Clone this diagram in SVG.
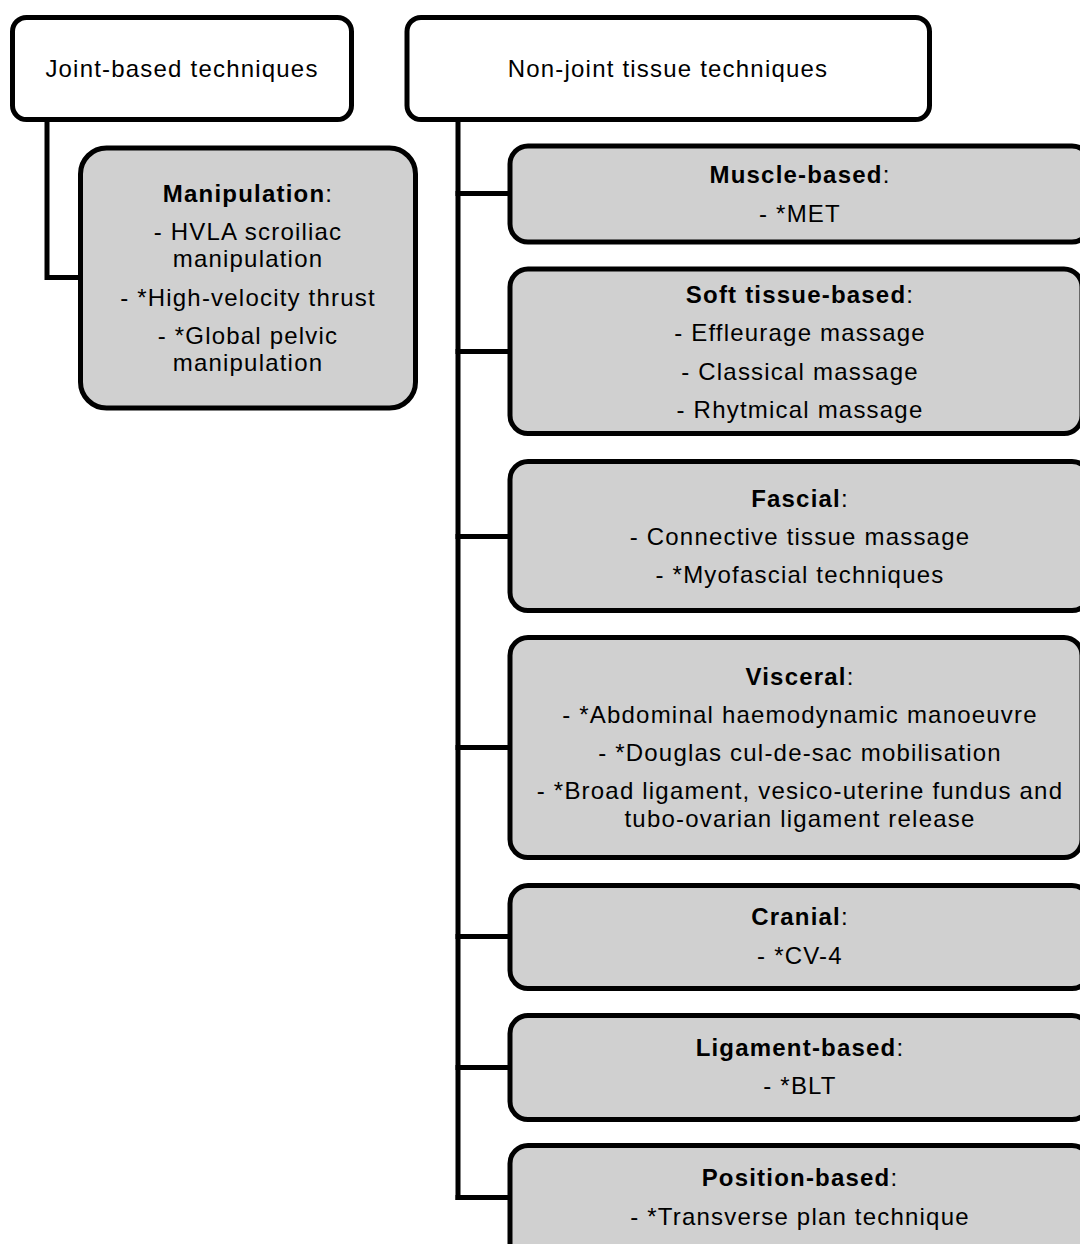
<svg xmlns="http://www.w3.org/2000/svg" width="1080" height="1244" viewBox="0 0 1080 1244">
  <style>
    .box { stroke: #000; stroke-width: 5; }
    .head { fill: #fff; }
    .sub { fill: #d0d0d0; }
    .link { fill: none; stroke: #000; stroke-width: 5; stroke-linejoin: miter; stroke-linecap: square; }
    text { font-family: "Liberation Sans", Arial, sans-serif; font-size: 24px; fill: #000; text-anchor: middle; letter-spacing: 1.2px; }
    .b { font-weight: bold; }
  </style>

  <rect width="1080" height="1244" fill="#fff"/>

  <!-- connectors -->
  <g id="connectors">
    <path class="link" d="M47 122 V277.5 H78"/>
    <path class="link" d="M458 122 V1197.5"/>
    <path class="link" d="M458 193.5 H508"/>
    <path class="link" d="M458 351.5 H508"/>
    <path class="link" d="M458 536.5 H508"/>
    <path class="link" d="M458 747.5 H508"/>
    <path class="link" d="M458 936.5 H508"/>
    <path class="link" d="M458 1067.5 H508"/>
    <path class="link" d="M458 1197.5 H508"/>
  </g>

  <!-- top-level categories -->
  <g id="joint-based">
    <rect class="box head" x="12.5" y="17.5" width="339" height="102" rx="14"/>
    <text x="182" y="77">Joint-based techniques</text>
  </g>

  <g id="non-joint">
    <rect class="box head" x="407" y="17.5" width="522.5" height="102" rx="14"/>
    <text x="668" y="77">Non-joint tissue techniques</text>
  </g>

  <!-- joint-based group -->
  <g id="manipulation">
    <rect class="box sub" x="80.5" y="148" width="335" height="260" rx="26"/>
    <text x="248" y="202"><tspan class="b">Manipulation</tspan>:</text>
    <text x="248" y="240">- HVLA scroiliac</text>
    <text x="248" y="267">manipulation</text>
    <text x="248" y="306">- *High-velocity thrust</text>
    <text x="248" y="344">- *Global pelvic</text>
    <text x="248" y="371">manipulation</text>
  </g>

  <!-- non-joint tissue groups -->
  <g id="muscle-based">
    <rect class="box sub" x="510" y="146" width="580" height="96" rx="18"/>
    <text x="800" y="183"><tspan class="b">Muscle-based</tspan>:</text>
    <text x="800" y="222">- *MET</text>
  </g>

  <g id="soft-tissue">
    <rect class="box sub" x="510" y="269" width="572" height="164.5" rx="18"/>
    <text x="800" y="303"><tspan class="b">Soft tissue-based</tspan>:</text>
    <text x="800" y="341">- Effleurage massage</text>
    <text x="800" y="380">- Classical massage</text>
    <text x="800" y="418">- Rhytmical massage</text>
  </g>

  <g id="fascial">
    <rect class="box sub" x="510" y="461.5" width="580" height="149" rx="18"/>
    <text x="800" y="507"><tspan class="b">Fascial</tspan>:</text>
    <text x="800" y="545">- Connective tissue massage</text>
    <text x="800" y="583">- *Myofascial techniques</text>
  </g>

  <g id="visceral">
    <rect class="box sub" x="510" y="637.5" width="572" height="220" rx="18"/>
    <text x="800" y="685"><tspan class="b">Visceral</tspan>:</text>
    <text x="800" y="723">- *Abdominal haemodynamic manoeuvre</text>
    <text x="800" y="761">- *Douglas cul-de-sac mobilisation</text>
    <text x="800" y="799">- *Broad ligament, vesico-uterine fundus and</text>
    <text x="800" y="827">tubo-ovarian ligament release</text>
  </g>

  <g id="cranial">
    <rect class="box sub" x="510" y="885.5" width="580" height="103" rx="18"/>
    <text x="800" y="925"><tspan class="b">Cranial</tspan>:</text>
    <text x="800" y="964">- *CV-4</text>
  </g>

  <g id="ligament-based">
    <rect class="box sub" x="510" y="1015.5" width="580" height="104" rx="18"/>
    <text x="800" y="1056"><tspan class="b">Ligament-based</tspan>:</text>
    <text x="800" y="1094">- *BLT</text>
  </g>

  <g id="position-based">
    <rect class="box sub" x="510" y="1145.5" width="580" height="140" rx="18"/>
    <text x="800" y="1186"><tspan class="b">Position-based</tspan>:</text>
    <text x="800" y="1225">- *Transverse plan technique</text>
  </g>
</svg>
